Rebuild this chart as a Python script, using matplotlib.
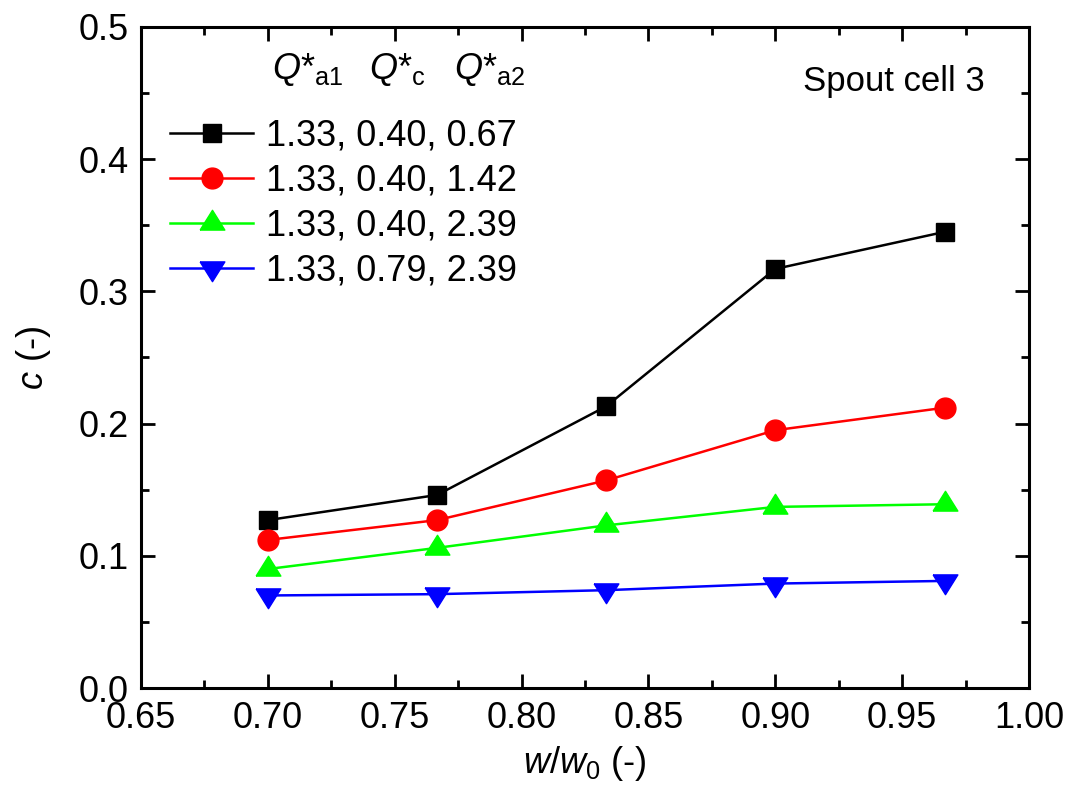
import matplotlib
matplotlib.use("Agg")
import matplotlib.pyplot as plt
from matplotlib.ticker import MultipleLocator, FormatStrFormatter

plt.rcParams['font.family'] = ['Liberation Sans', 'DejaVu Sans']
plt.rcParams['mathtext.fontset'] = 'custom'
plt.rcParams['mathtext.rm'] = 'Liberation Sans'
plt.rcParams['mathtext.it'] = 'Liberation Sans:italic'
plt.rcParams['mathtext.bf'] = 'Liberation Sans:bold'

# Data
w_ratio = [0.700, 0.7667, 0.8333, 0.900, 0.9667]
c_067 = [0.127, 0.146, 0.213, 0.317, 0.345]
c_142 = [0.112, 0.127, 0.157, 0.195, 0.212]
c_239 = [0.090, 0.106, 0.123, 0.137, 0.139]
c_079_239 = [0.070, 0.071, 0.074, 0.079, 0.081]
labels = ["1.33, 0.40, 0.67", "1.33, 0.40, 1.42", "1.33, 0.40, 2.39", "1.33, 0.79, 2.39"]
header = [r"$Q$*${}_{\mathrm{a1}}$", r"$Q$*${}_{\mathrm{c}}$", r"$Q$*${}_{\mathrm{a2}}$"]

tri_up = [(-1, -0.533), (1, -0.533), (0, 1.067), (-1, -0.533)]
tri_dn = [(-1, 0.533), (1, 0.533), (0, -1.067), (-1, 0.533)]

FS = 26

fig = plt.figure(figsize=(10.69, 7.91), dpi=100)
ax = fig.add_axes([0.1319, 0.1302, 0.8307, 0.8357])

ax.plot(w_ratio, c_067, color='black', lw=1.8, marker='s', ms=13.5, label=labels[0])
ax.plot(w_ratio, c_142, color='red', lw=1.8, marker='o', ms=15, label=labels[1])
ax.plot(w_ratio, c_239, color='#00ff00', lw=1.8, marker=tri_up, ms=19, label=labels[2])
ax.plot(w_ratio, c_079_239, color='blue', lw=1.8, marker=tri_dn, ms=19, label=labels[3])

ax.set_xlim(0.65, 1.00)
ax.set_ylim(0.0, 0.5)
ax.xaxis.set_major_locator(MultipleLocator(0.05))
ax.xaxis.set_minor_locator(MultipleLocator(0.025))
ax.yaxis.set_major_locator(MultipleLocator(0.1))
ax.yaxis.set_minor_locator(MultipleLocator(0.05))
ax.xaxis.set_major_formatter(FormatStrFormatter('%.2f'))
ax.yaxis.set_major_formatter(FormatStrFormatter('%.1f'))

for s in ax.spines.values():
    s.set_linewidth(2.2)
ax.tick_params(which='both', direction='in', top=True, right=True, width=2.0)
ax.tick_params(which='major', length=10, labelsize=FS, pad=9)
ax.tick_params(which='minor', length=5.5)

ax.set_xlabel(r"$w/w_{\mathrm{0}}$ (-)", fontsize=FS, labelpad=6)
ax.set_ylabel(r"$c$ (-)", fontsize=FS, labelpad=18)

leg = ax.legend(loc='upper left', bbox_to_anchor=(0.0327, 0.862), frameon=False,
                fontsize=FS, handlelength=2.3, handletextpad=0.35, labelspacing=0.28,
                borderpad=0, borderaxespad=0, markerscale=1.0)

hx = [0.1475, 0.2568, 0.3525]
for x, h in zip(hx, header):
    ax.text(x, 0.921, h, transform=ax.transAxes, fontsize=FS, ha='left', va='baseline')

ax.text(0.950, 0.903, "Spout cell 3", transform=ax.transAxes, fontsize=FS - 1,
        ha='right', va='baseline')

fig.savefig("out.png", dpi=100)
